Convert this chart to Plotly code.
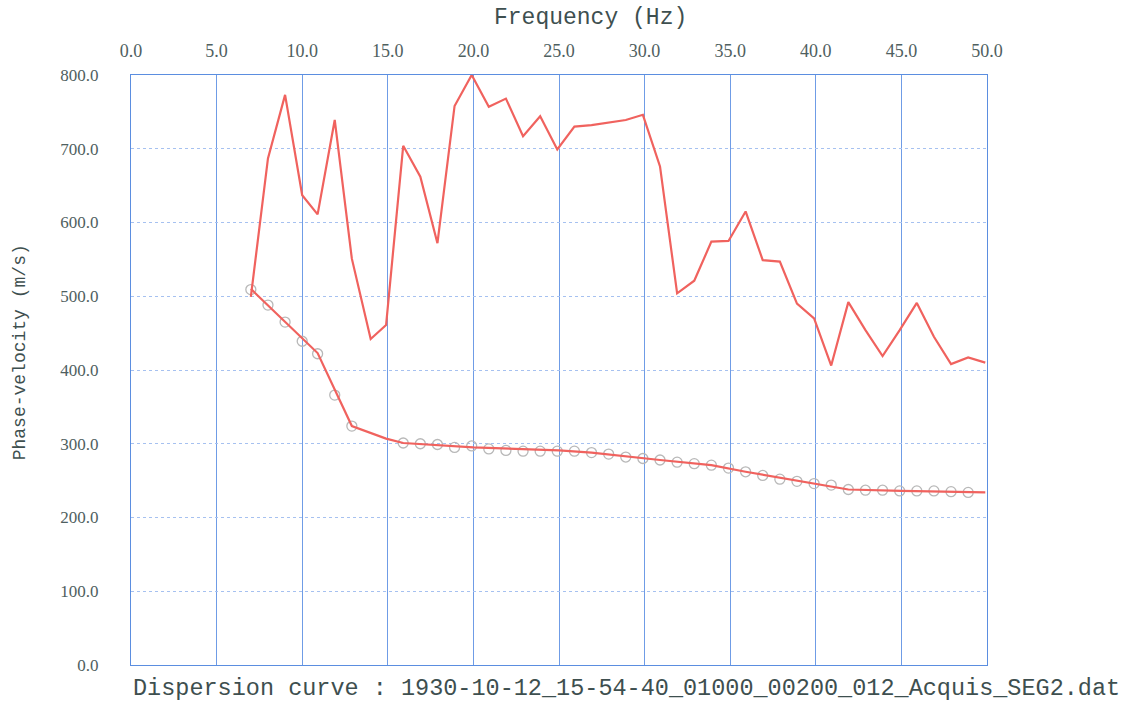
import plotly.graph_objects as go

# Upper (noisy) picked dispersion curve
freq_upper = [7.0, 8.0, 9.0, 10.0, 10.9, 11.9, 12.9, 14.0, 14.9, 15.9, 16.9, 17.9, 18.9,
              19.9, 20.9, 21.9, 22.9, 23.9, 24.9, 25.9, 26.9, 27.9, 28.9, 29.9, 30.9,
              31.9, 32.9, 33.9, 34.9, 35.9, 36.9, 37.9, 38.9, 39.9, 40.9, 41.9, 42.9,
              43.9, 44.9, 45.9, 46.9, 47.9, 48.9, 49.9]
vel_upper = [499, 687, 773, 637, 611, 739, 551, 442, 461, 704, 662, 572, 758,
             800, 757, 768, 717, 744, 699, 730, 732, 735, 739, 746, 676,
             504, 521, 574, 575, 615, 549, 547, 490, 470, 406, 492, 454,
             419, 454, 491, 445, 408, 417, 410]

# Observed points (open circles)
freq_pts = [7.0, 8.0, 9.0, 10.0, 10.9, 11.9, 12.9, 15.9, 16.9, 17.9, 18.9, 19.9, 20.9,
            21.9, 22.9, 23.9, 24.9, 25.9, 26.9, 27.9, 28.9, 29.9, 30.9, 31.9, 32.9,
            33.9, 34.9, 35.9, 36.9, 37.9, 38.9, 39.9, 40.9, 41.9, 42.9, 43.9, 44.9,
            45.9, 46.9, 47.9, 48.9]
vel_pts = [509, 488, 465, 439, 422, 366, 324, 301, 300, 299, 295, 297, 293,
           291, 290, 290, 290, 290, 288, 286, 282, 280, 278, 275, 273,
           271, 267, 262, 257, 252, 249, 246, 244, 238, 237, 237, 236,
           236, 236, 235, 234]

# Fitted dispersion curve (red line)
freq_fit = [7.0, 10.9, 12.9, 14.9, 15.9, 20.0, 25.0, 26.9, 30.9, 33.9, 35.9, 39.9, 40.9, 41.9, 45.0, 49.9]
vel_fit = [510, 423, 324, 307, 301, 295, 291, 288, 278, 271, 262, 246, 243, 238, 236, 234]

x_ticks = [0, 5, 10, 15, 20, 25, 30, 35, 40, 45, 50]
y_ticks = [0, 100, 200, 300, 400, 500, 600, 700, 800]

RED = "#f0625e"
TXT = "#3e4f4f"
TICK = "#4f6060"
MONO = "Liberation Mono"

fig = go.Figure()
fig.add_trace(go.Scatter(x=freq_pts, y=vel_pts, mode="markers",
                         marker=dict(symbol="circle-open", size=10, color="#b8b8b8",
                                     line=dict(width=1.3, color="#b8b8b8")),
                         showlegend=False))
fig.add_trace(go.Scatter(x=freq_fit, y=vel_fit, mode="lines",
                         line=dict(color=RED, width=2.2), showlegend=False))
fig.add_trace(go.Scatter(x=freq_upper, y=vel_upper, mode="lines",
                         line=dict(color=RED, width=2.2), showlegend=False))

fig.update_layout(
    width=1126, height=701,
    margin=dict(l=131, r=139, t=75, b=36),
    paper_bgcolor="white", plot_bgcolor="white",
    showlegend=False,
    xaxis=dict(
        side="top", range=[0, 50], tickvals=x_ticks,
        ticktext=[f"{v:.1f}" for v in x_ticks],
        showgrid=True, gridcolor="#6f9ce6", gridwidth=1,
        showline=True, linecolor="#5b8ee0", linewidth=1.2, mirror=True,
        zeroline=False, ticks="", ticklabelstandoff=10,
        tickfont=dict(family="Liberation Serif", size=18, color=TICK),
    ),
    yaxis=dict(
        range=[0, 800], tickvals=y_ticks,
        ticktext=[f"{v:.1f}" for v in y_ticks],
        showgrid=True, gridcolor="#a6c1f0", gridwidth=1, griddash="dot",
        showline=True, linecolor="#5b8ee0", linewidth=1.2, mirror=True,
        zeroline=False, ticks="", ticklabelstandoff=28,
        tickfont=dict(family="Liberation Serif", size=17, color=TICK),
    ),
    annotations=[
        dict(text="Frequency (Hz)", xref="paper", yref="paper", x=0.537, y=1,
             yshift=57, xanchor="center", yanchor="middle", showarrow=False,
             font=dict(family=MONO, size=23, color=TXT)),
        dict(text="Phase-velocity (m/s)", xref="paper", yref="paper", x=0, y=0.53,
             xshift=-111, xanchor="center", yanchor="middle", showarrow=False,
             textangle=-90, font=dict(family=MONO, size=18, color=TXT)),
        dict(text="Dispersion curve : 1930-10-12_15-54-40_01000_00200_012_Acquis_SEG2.dat",
             xref="paper", yref="paper", x=0.579, y=0, yshift=-23,
             xanchor="center", yanchor="middle", showarrow=False,
             font=dict(family=MONO, size=23.5, color=TXT)),
    ],
)

fig.write_html("out.html")
